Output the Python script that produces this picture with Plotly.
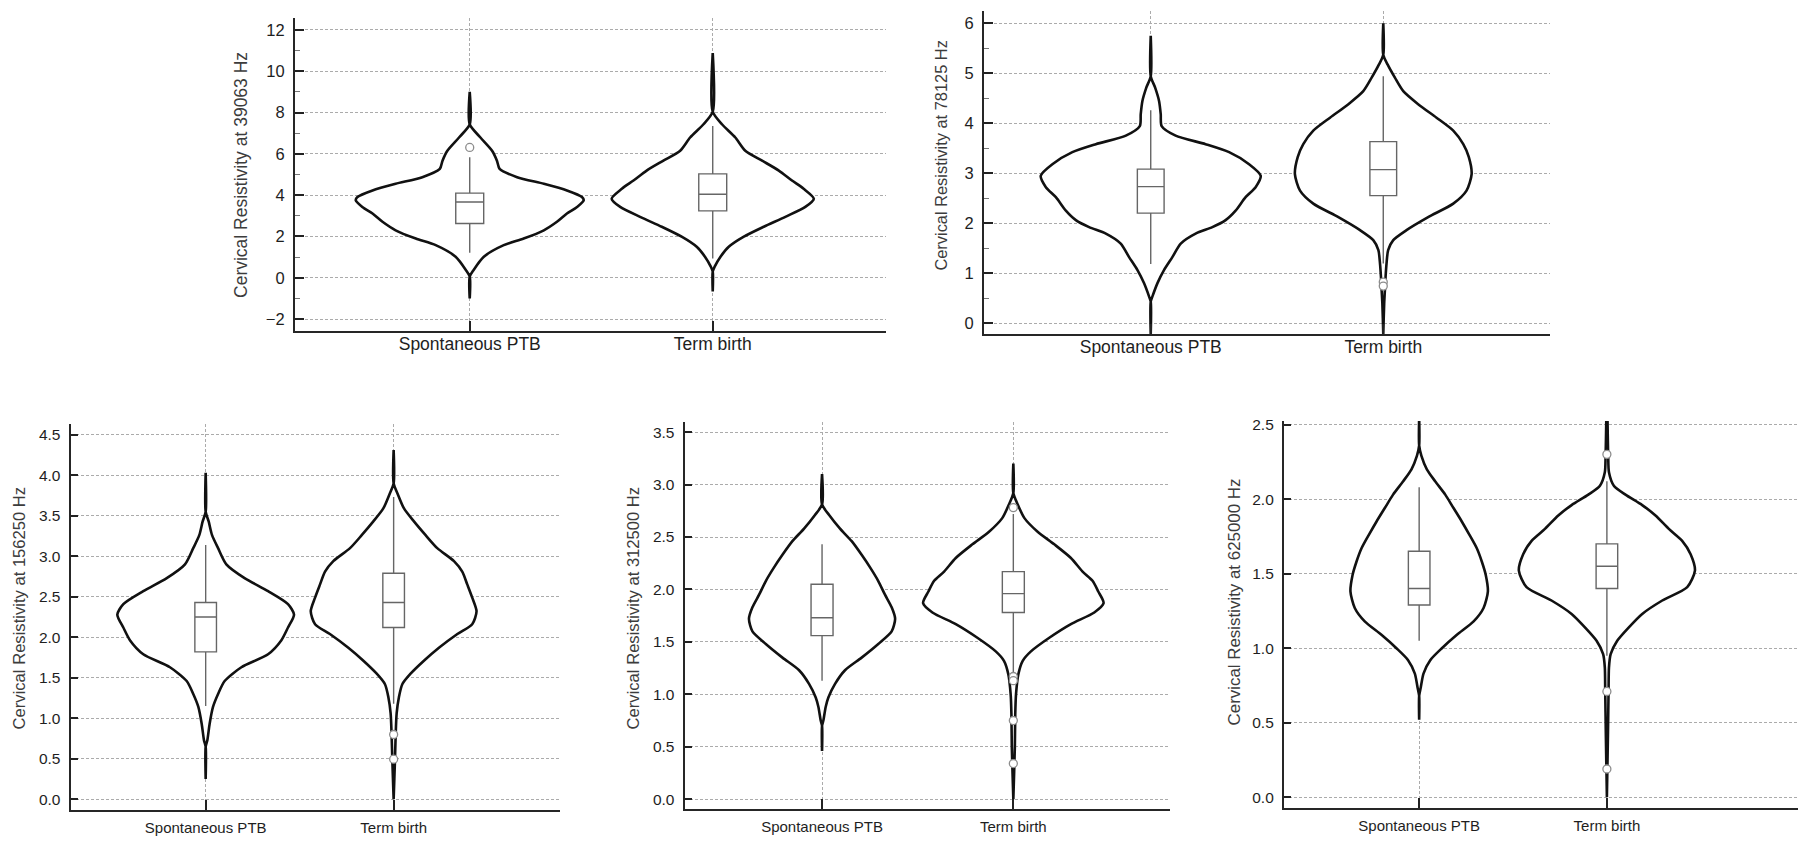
import plotly.graph_objects as go

W, H = 1798, 843
categories = ["Spontaneous PTB", "Term birth"]
freqs = ["39063", "78125", "156250", "312500", "625000"]

# ---------------- violin outlines (value level, half-width in category units)
p1_ptb_y = [9.0, 7.43, 6.79, 6.15, 5.67, 5.27, 4.87, 4.55, 4.23, 3.91, 3.75, 3.43, 3.11, 2.71, 2.30, 1.90, 1.58, 1.02, 0.38, 0.06, -1.0]
p1_ptb_w = [0, 0, 0.044, 0.092, 0.112, 0.123, 0.195, 0.305, 0.40, 0.462, 0.469, 0.442, 0.40, 0.359, 0.305, 0.222, 0.14, 0.058, 0.016, 0, 0]
p1_tb_y = [10.88, 8.04, 7.43, 6.79, 6.15, 5.67, 5.19, 4.71, 4.31, 3.83, 3.43, 2.95, 2.47, 1.99, 1.50, 1.02, 0.54, 0.3, -0.66]
p1_tb_w = [0, 0, 0.038, 0.093, 0.134, 0.203, 0.272, 0.326, 0.374, 0.416, 0.381, 0.299, 0.210, 0.128, 0.066, 0.032, 0.008, 0, 0]

p2_ptb_y = [5.75, 4.94, 4.71, 4.44, 4.18, 3.94, 3.75, 3.58, 3.42, 3.18, 2.95, 2.72, 2.52, 2.25, 2.06, 1.92, 1.79, 1.59, 1.32, 1.06, 0.80, 0.53, 0.43, -0.22]
p2_ptb_w = [0, 0, 0.019, 0.036, 0.043, 0.047, 0.107, 0.236, 0.337, 0.423, 0.473, 0.451, 0.408, 0.365, 0.322, 0.265, 0.193, 0.129, 0.093, 0.057, 0.029, 0.007, 0, 0]
p2_tb_y = [6.0, 5.37, 5.17, 4.91, 4.64, 4.38, 4.11, 3.85, 3.58, 3.32, 2.98, 2.65, 2.39, 2.12, 1.86, 1.66, 1.46, 1.19, 0.93, 0.66, 0.4, -0.22]
p2_tb_w = [0, 0, 0.019, 0.050, 0.086, 0.150, 0.229, 0.301, 0.344, 0.368, 0.380, 0.358, 0.301, 0.193, 0.100, 0.043, 0.021, 0.014, 0.010, 0.007, 0.004, 0]

p3_ptb_y = [4.03, 3.55, 3.43, 3.26, 3.10, 2.90, 2.73, 2.57, 2.41, 2.28, 2.12, 1.96, 1.79, 1.63, 1.46, 1.30, 1.14, 0.93, 0.73, 0.65, 0.25]
p3_ptb_w = [0, 0, 0.016, 0.034, 0.066, 0.110, 0.207, 0.332, 0.438, 0.470, 0.438, 0.402, 0.332, 0.190, 0.101, 0.066, 0.039, 0.021, 0.009, 0, 0]
p3_tb_y = [4.31, 3.90, 3.76, 3.59, 3.43, 3.26, 3.10, 2.94, 2.81, 2.65, 2.49, 2.32, 2.16, 2.04, 1.87, 1.71, 1.55, 1.42, 1.26, 1.06, 0.81, 0.48, 0.0]
p3_tb_w = [0, 0, 0.023, 0.055, 0.108, 0.170, 0.232, 0.321, 0.365, 0.392, 0.418, 0.441, 0.418, 0.339, 0.241, 0.161, 0.090, 0.046, 0.028, 0.016, 0.011, 0.007, 0]

p4_ptb_y = [3.10, 2.81, 2.71, 2.58, 2.46, 2.33, 2.21, 2.08, 1.95, 1.83, 1.72, 1.60, 1.48, 1.35, 1.23, 1.10, 0.97, 0.88, 0.75, 0.70, 0.46]
p4_ptb_w = [0, 0, 0.037, 0.094, 0.155, 0.207, 0.251, 0.294, 0.329, 0.364, 0.382, 0.364, 0.294, 0.207, 0.120, 0.068, 0.033, 0.019, 0.007, 0, 0]
p4_tb_y = [3.20, 2.92, 2.81, 2.68, 2.55, 2.43, 2.30, 2.17, 2.08, 1.98, 1.87, 1.78, 1.67, 1.54, 1.41, 1.32, 1.19, 1.00, 0.81, 0.50, 0.0]
p4_tb_w = [0, 0, 0.023, 0.058, 0.127, 0.214, 0.301, 0.362, 0.415, 0.444, 0.472, 0.423, 0.301, 0.188, 0.092, 0.049, 0.026, 0.014, 0.010, 0.008, 0]

p5_ptb_y = [2.55, 2.36, 2.29, 2.20, 2.12, 2.03, 1.94, 1.85, 1.76, 1.67, 1.58, 1.49, 1.38, 1.27, 1.18, 1.09, 1.00, 0.92, 0.83, 0.74, 0.68, 0.52]
p5_ptb_w = [0, 0, 0.012, 0.041, 0.085, 0.139, 0.183, 0.227, 0.268, 0.307, 0.334, 0.355, 0.366, 0.343, 0.290, 0.201, 0.121, 0.059, 0.023, 0.009, 0, 0]
p5_tb_y = [2.55, 2.29, 2.18, 2.09, 2.03, 1.96, 1.89, 1.80, 1.72, 1.63, 1.52, 1.41, 1.32, 1.23, 1.14, 1.05, 0.96, 0.87, 0.72, 0.45, 0.0]
p5_tb_w = [0.003, 0.007, 0.011, 0.037, 0.099, 0.188, 0.259, 0.330, 0.401, 0.446, 0.469, 0.428, 0.295, 0.188, 0.117, 0.055, 0.020, 0.011, 0.009, 0.006, 0]

# ---------------- box statistics [PTB, Term birth]
p1_q1, p1_med, p1_q3, p1_lo, p1_hi = [2.63, 3.24], [3.67, 4.04], [4.10, 5.03], [1.21, 0.94], [5.83, 7.35]
p2_q1, p2_med, p2_q3, p2_lo, p2_hi = [2.20, 2.55], [2.73, 3.07], [3.08, 3.63], [1.18, 1.19], [4.26, 4.94]
p3_q1, p3_med, p3_q3, p3_lo, p3_hi = [1.82, 2.12], [2.25, 2.43], [2.43, 2.79], [1.15, 1.18], [3.14, 3.73]
p4_q1, p4_med, p4_q3, p4_lo, p4_hi = [1.56, 1.78], [1.73, 1.96], [2.05, 2.17], [1.13, 1.20], [2.43, 2.72]
p5_q1, p5_med, p5_q3, p5_lo, p5_hi = [1.29, 1.40], [1.40, 1.55], [1.65, 1.70], [1.05, 0.95], [2.08, 2.12]

# ---------------- outliers
p1_out_ptb, p1_out_tb = [6.31], []
p2_out_ptb, p2_out_tb = [], [0.82, 0.74]
p3_out_ptb, p3_out_tb = [], [0.80, 0.495]
p4_out_ptb, p4_out_tb = [], [2.78, 1.17, 1.13, 0.75, 0.34]
p5_out_ptb, p5_out_tb = [], [2.30, 0.71, 0.19]

# ---------------- y ticks
p1_dtick, p2_dtick, p3_dtick, p4_dtick, p5_dtick = 2, 1, 0.5, 0.5, 0.5

panels = [
    dict(prof=[(p1_ptb_y, p1_ptb_w), (p1_tb_y, p1_tb_w)], q1=p1_q1, med=p1_med, q3=p1_q3, lo=p1_lo, hi=p1_hi,
         out=[p1_out_ptb, p1_out_tb], dtick=p1_dtick, minor=1,
         xdom=[295, 886], ydom=[13, 328], xr=[-0.719, 1.713], yr=[-2.577, 12.577],
         title_xy=(241, 171), tsize=17.5, yfs=16.5, xfs=17.5, tickfmt=None, xstand=-4),
    dict(prof=[(p2_ptb_y, p2_ptb_w), (p2_tb_y, p2_tb_w)], q1=p2_q1, med=p2_med, q3=p2_q3, lo=p2_lo, hi=p2_hi,
         out=[p2_out_ptb, p2_out_tb], dtick=p2_dtick, minor=0.5,
         xdom=[984, 1550], ydom=[6, 331], xr=[-0.717, 1.717], yr=[-0.219, 6.245],
         title_xy=(941.5, 152), tsize=16.4, yfs=16.5, xfs=17.5, tickfmt=None, xstand=-4),
    dict(prof=[(p3_ptb_y, p3_ptb_w), (p3_tb_y, p3_tb_w)], q1=p3_q1, med=p3_med, q3=p3_q3, lo=p3_lo, hi=p3_hi,
         out=[p3_out_ptb, p3_out_tb], dtick=p3_dtick, minor=None,
         xdom=[70.7, 560], ydom=[421.3, 809.7], xr=[-0.718, 1.885], yr=[-0.131, 4.635],
         title_xy=(19, 607), tsize=16.6, yfs=15.5, xfs=15, tickfmt=".1f", xstand=3),
    dict(prof=[(p4_ptb_y, p4_ptb_w), (p4_tb_y, p4_tb_w)], q1=p4_q1, med=p4_med, q3=p4_q3, lo=p4_lo, hi=p4_hi,
         out=[p4_out_ptb, p4_out_tb], dtick=p4_dtick, minor=None,
         xdom=[684.7, 1170], ydom=[419, 809], xr=[-0.718, 1.819], yr=[-0.095, 3.601],
         title_xy=(633, 607), tsize=16.6, yfs=15.5, xfs=15, tickfmt=".1f", xstand=3),
    dict(prof=[(p5_ptb_y, p5_ptb_w), (p5_tb_y, p5_tb_w)], q1=p5_q1, med=p5_med, q3=p5_q3, lo=p5_lo, hi=p5_hi,
         out=[p5_out_ptb, p5_out_tb], dtick=p5_dtick, minor=None,
         xdom=[1284, 1798], ydom=[418.6, 808], xr=[-0.72, 2.018], yr=[-0.073, 2.523],
         title_xy=(1234, 601), tsize=16.9, yfs=15.5, xfs=15, tickfmt=".1f", xstand=3),
]

FONT = "Liberation Sans, Arial, sans-serif"
GRID = "#ababab"
N = len(panels)

fig = go.Figure()
annotations = []
for i, p in enumerate(panels, start=1):
    sx = "" if i == 1 else str(i)
    xa, ya = "x" + sx, "y" + sx
    ya_top = "y" + str(i + N)          # overlay y axis so boxes sit above the filled violins
    for c, (yy, ww) in enumerate(p["prof"]):
        xs = [c + w for w in ww] + [c - w for w in reversed(ww)]
        ys = list(yy) + list(reversed(yy))
        fig.add_trace(go.Scatter(
            x=xs, y=ys, mode="lines", fill="toself", fillcolor="white",
            line=dict(color="#111111", width=2.6, shape="spline", smoothing=0.7),
            xaxis=xa, yaxis=ya, hoverinfo="skip", showlegend=False))
    fig.add_trace(go.Box(
        x=[0, 1], q1=p["q1"], median=p["med"], q3=p["q3"],
        lowerfence=p["lo"], upperfence=p["hi"], width=0.115,
        fillcolor="white", line=dict(color="#666666", width=1.4),
        whiskerwidth=0, boxpoints=False, xaxis=xa, yaxis=ya_top, showlegend=False))
    ox = [0] * len(p["out"][0]) + [1] * len(p["out"][1])
    oy = list(p["out"][0]) + list(p["out"][1])
    if oy:
        fig.add_trace(go.Scatter(
            x=ox, y=oy, mode="markers",
            marker=dict(symbol="circle", size=8, color="white",
                        line=dict(color="#8c8c8c", width=1.3)),
            xaxis=xa, yaxis=ya_top, hoverinfo="skip", showlegend=False))

    xd = [p["xdom"][0] / W, min(1.0, p["xdom"][1] / W)]
    yd = [1 - p["ydom"][1] / H, 1 - p["ydom"][0] / H]
    xaxis = dict(
        domain=xd, anchor=ya, range=p["xr"], tickmode="array", tickvals=[0, 1], ticktext=categories,
        ticks="inside", ticklen=10, tickwidth=1.5, tickcolor="#222",
        showline=True, linecolor="#262626", linewidth=2.2,
        showgrid=True, gridcolor=GRID, gridwidth=1, griddash="3px,2px",
        zeroline=False, tickfont=dict(family=FONT, size=p["xfs"], color="#1e1e1e"),
        ticklabelstandoff=p["xstand"], fixedrange=True)
    yaxis = dict(
        domain=yd, anchor=xa, range=p["yr"], tick0=0, dtick=p["dtick"],
        ticks="inside", ticklen=9 if i <= 2 else 7, tickwidth=2 if i <= 2 else 1.5, tickcolor="#222",
        showline=True, linecolor="#262626", linewidth=2.2,
        showgrid=True, gridcolor=GRID, gridwidth=1, griddash="3px,2px",
        zeroline=False, tickfont=dict(family=FONT, size=p["yfs"], color="#1e1e1e"),
        ticklabelstandoff=5, fixedrange=True)
    if p["tickfmt"]:
        yaxis["tickformat"] = p["tickfmt"]
    if p["minor"]:
        yaxis["minor"] = dict(dtick=p["minor"], tick0=0, ticks="inside", ticklen=5,
                              tickcolor="#777", tickwidth=1, showgrid=False)
    yaxis_top = dict(domain=yd, anchor=xa, overlaying=ya, range=p["yr"], visible=False,
                     showgrid=False, zeroline=False, fixedrange=True)
    fig.update_layout(**{"xaxis" + sx: xaxis, "yaxis" + sx: yaxis,
                         "yaxis" + str(i + N): yaxis_top})

    tx, ty = p["title_xy"]
    annotations.append(dict(
        text="Cervical Resistivity at %s Hz" % freqs[i - 1], xref="paper", yref="paper",
        x=tx / W, y=1 - ty / H, xanchor="center", yanchor="middle", textangle=-90,
        showarrow=False, font=dict(family=FONT, size=p["tsize"], color="#3c3c3c")))

fig.update_layout(
    width=W, height=H, margin=dict(l=0, r=0, t=0, b=0),
    paper_bgcolor="white", plot_bgcolor="white",
    showlegend=False, annotations=annotations, boxmode="overlay",
)

fig.write_html("out.html")
